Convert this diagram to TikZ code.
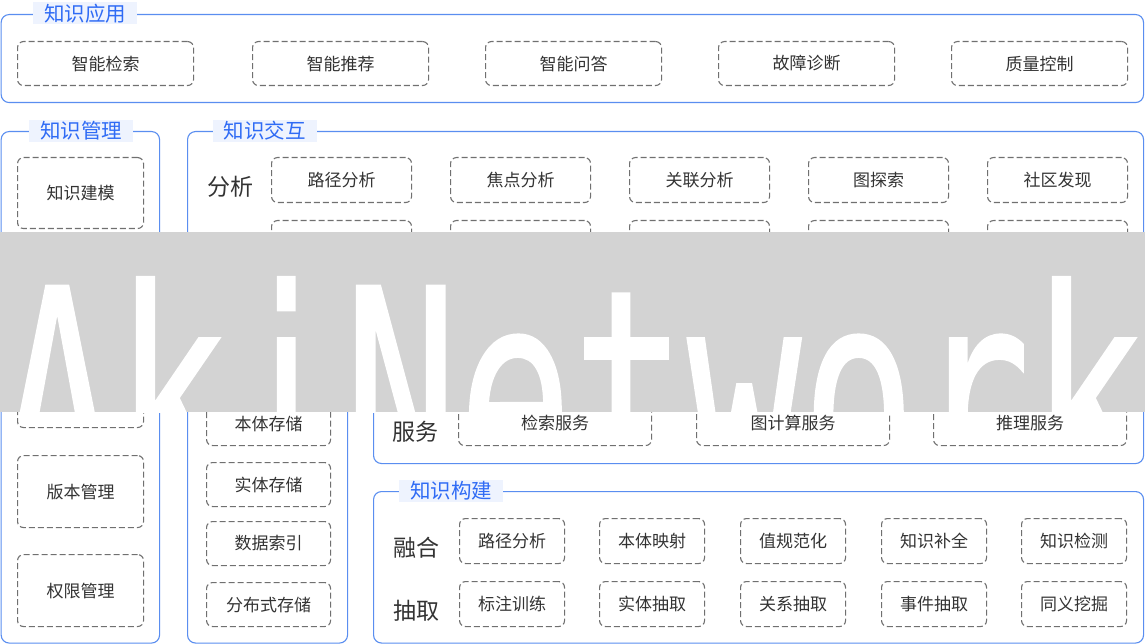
\documentclass[tikz,border=0pt]{standalone}
\usepackage{fontspec}
\usepackage{graphicx}
\newfontfamily\cjk{Noto Sans CJK SC}
\newfontfamily\bannerfont[FakeBold=0.9]{DejaVu Sans Mono}
\newfontfamily\bannerfontb[FakeBold=0.9]{DejaVu Sans}
\definecolor{panelblue}{HTML}{5A8EF0}
\definecolor{titleblue}{HTML}{2F6BF5}
\definecolor{titlebg}{HTML}{EEF3FE}
\definecolor{dashgrey}{HTML}{707070}
\definecolor{txt}{HTML}{333333}
\definecolor{bannergrey}{HTML}{D3D3D3}
\tikzset{
  panel/.style={draw=panelblue, line width=1.1pt, rounded corners=8pt, anchor=north west, inner sep=0pt},
  ptitle/.style={fill=titlebg, text=titleblue, font=\cjk\fontsize{20.5}{22}\selectfont, minimum width=104pt, minimum height=22pt, inner sep=0pt},
  dbox/.style={draw=dashgrey, line width=1.1pt, dash pattern=on 6pt off 3pt, rounded corners=6pt, anchor=north west, inner sep=0pt, text=txt, font=\cjk\fontsize{17}{19}\selectfont},
  rowlabel/.style={text=txt, font=\cjk\fontsize{23}{25}\selectfont, inner sep=0pt},
  banchar/.style={anchor=base, inner sep=0pt, text=white, font=\bannerfont\fontsize{288}{288}\selectfont}
}
\begin{document}
\begin{tikzpicture}[x=1pt,y=-1pt]
\useasboundingbox (0,0) rectangle (1145,644);
\fill[white] (0,0) rectangle (1145,644);
% panels
\node[panel, minimum width=1142.4pt, minimum height=88pt] (pA) at (0.6,14) {};
\node[panel, minimum width=158.4pt, minimum height=511.5pt] (pM) at (0.6,131) {};
\node[panel, minimum width=956pt, minimum height=167pt] (pI) at (187,131) {};
\node[panel, minimum width=160pt, minimum height=324.5pt] (pS) at (187,318) {};
\node[panel, minimum width=770pt, minimum height=145pt] (pV) at (373,318) {};
\node[panel, minimum width=770pt, minimum height=151.5pt] (pB) at (373,491) {};
% titles
\node[ptitle] (tA) at (85,13.5) {知识应用};
\node[ptitle] (tM) at (81,131) {知识管理};
\node[ptitle] (tI) at (264.5,131) {知识交互};
\node[ptitle] (tB) at (451,490.5) {知识构建};
% application row
\foreach \x/\t [count=\i] in {17/智能检索,252/智能推荐,485/智能问答,718/故障诊断,951/质量控制}
  \node[dbox, minimum width=176pt, minimum height=44pt] (a\i) at (\x,41) {\t};
% management column
\node[dbox, minimum width=126pt, minimum height=71pt] (m1) at (17,157) {知识建模};
\node[dbox, minimum width=126pt, minimum height=72pt] (m3) at (17,355) {};
\node[dbox, minimum width=126pt, minimum height=72pt] (m4) at (17,455) {版本管理};
\node[dbox, minimum width=126pt, minimum height=72pt] (m5) at (17,554) {权限管理};
% interaction
\node[rowlabel] (l1) at (230,187) {分析};
\foreach \x/\t [count=\i] in {271/路径分析,450/焦点分析,629/关联分析,808/图探索,987/社区发现}
  \node[dbox, minimum width=140pt, minimum height=45pt] (i\i) at (\x,157) {\t};
\foreach \x [count=\i] in {271,450,629,808,987}
  \node[dbox, minimum width=140pt, minimum height=45pt] (j\i) at (\x,220) {};
% storage
\foreach \y/\t [count=\i] in {401/本体存储,462/实体存储,521/数据索引,582/分布式存储}
  \node[dbox, minimum width=124pt, minimum height=44pt] (s\i) at (206,\y) {\t};
% services
\node[rowlabel] (l2) at (415,432) {服务};
\foreach \x/\t [count=\i] in {458/检索服务,696/图计算服务,933/推理服务}
  \node[dbox, minimum width=193pt, minimum height=45pt] (v\i) at (\x,400) {\t};
% construction
\node[rowlabel] (l3) at (416,548) {融合};
\node[rowlabel] (l4) at (416,611) {抽取};
\foreach \x/\t [count=\i] in {459/路径分析,599/本体映射,740/值规范化,881/知识补全,1021/知识检测}
  \node[dbox, minimum width=105pt, minimum height=45pt] (b\i) at (\x,518) {\t};
\foreach \x/\t [count=\i] in {459/标注训练,599/实体抽取,740/关系抽取,881/事件抽取,1021/同义挖掘}
  \node[dbox, minimum width=105pt, minimum height=45pt] (c\i) at (\x,581) {\t};
% banner
\fill[bannergrey] (0,232) rectangle (1145,412);
\begin{scope}
\clip (0,232) rectangle (1145,412);
\foreach \c [count=\k from 0] in {A,k,{\bannerfontb i},N,e,t,w,o,r,k}
  \node[banchar] (ban\k) at ({57.25+114.5*\k},496) {\scalebox{0.656}[1]{\c}};
\end{scope}
\end{tikzpicture}
\end{document}
